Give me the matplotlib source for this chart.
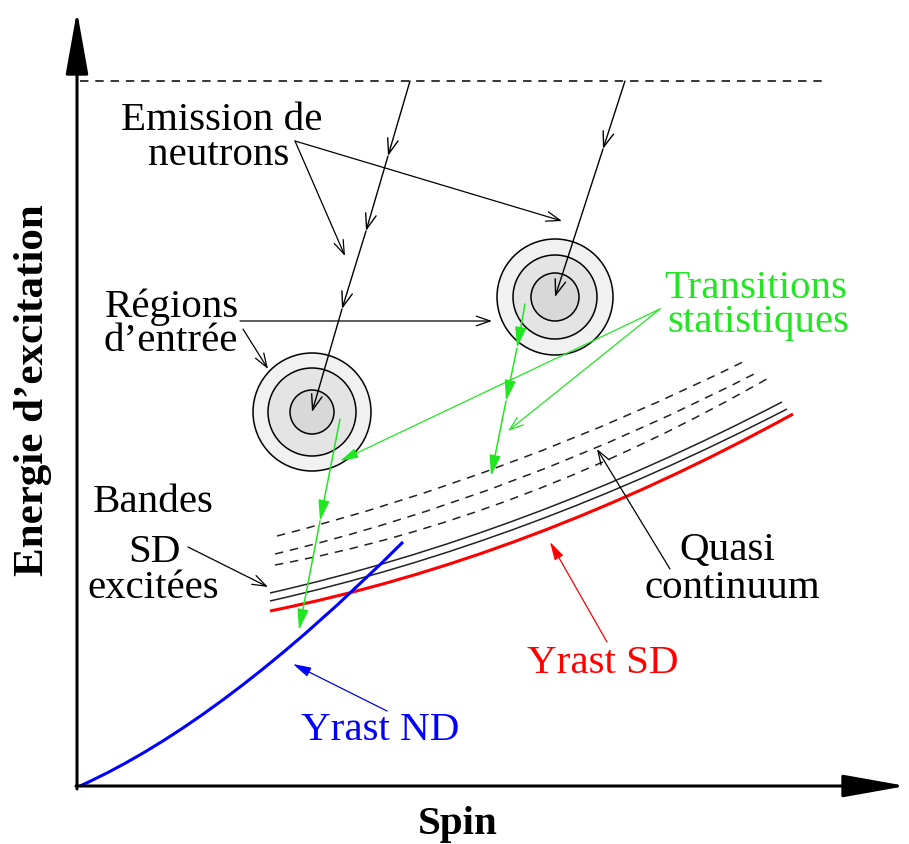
import numpy as np
import matplotlib
matplotlib.use('Agg')
import matplotlib.pyplot as plt
from matplotlib.path import Path
from matplotlib.patches import PathPatch, Circle

W, H = 909, 845

# every position below is in picture pixels, y pointing down
origin = (77, 787)
y_tip = (77, 12)
x_tip = (906, 787)
threshold_y = 82
threshold_x = (80, 825)

# neutron emission steps (entry point -> ... -> entry region)
cascade1 = [(410, 82), (388, 157), (366, 232), (342, 310), (312, 413)]
cascade2 = [(625, 82), (603, 150), (555, 298)]

# entry regions: centres and ring radii (outer -> inner)
centres = [(312, 413), (555, 298)]
radii = [[59, 44, 22], [58, 42, 24]]
ring_colors = ['#f1f1f1', '#e4e4e4', '#d8d8d8']

# statistical gamma transitions
gamma1 = [(340, 420), (320, 522), (299, 631)]
gamma2 = [(525, 305), (517, 349), (506, 402), (491, 477)]

# bands: start, bezier control, end
dashed_bands = [
    [(277, 537), (512, 477), (747, 361)],
    [(275, 555), (517, 497), (760, 372)],
    [(275, 566), (523, 520), (772, 377)],
]
solid_bands = [
    [(270, 594), (526, 536), (782, 403)],
    [(270, 602), (528, 544), (787, 410)],
]
yrast_sd = [(270, 612), (529, 560), (793, 415)]
yrast_nd = [(80, 787), (224, 722), (403, 543)]

GREEN = '#22e622'

# label pointers: (start, tip, color, style)
pointers = [
    ((295, 142), (345, 257), 'black', 'open'),
    ((295, 142), (562, 222), 'black', 'open'),
    ((240, 322), (492, 322), 'black', 'open'),
    ((243, 330), (268, 370), 'black', 'open'),
    ((660, 310), (340, 462), GREEN, 'filled'),
    ((660, 310), (508, 432), GREEN, 'open'),
    ((188, 548), (268, 588), 'black', 'open'),
    ((670, 570), (597, 450), 'black', 'open'),
    ((607, 643), (550, 543), 'red', 'filled'),
    ((387, 712), (293, 665), 'blue', 'filled'),
]

# labels: text, x, baseline y, color
labels = [
    ('Emission de', 222, 130, 'black'),
    ('neutrons', 219, 165, 'black'),
    ('Régions', 172, 317, 'black'),
    ('d\u2019entrée', 171, 351, 'black'),
    ('Transitions', 756, 298, GREEN),
    ('statistiques', 758, 332, GREEN),
    ('Bandes', 153, 512, 'black'),
    ('SD', 154, 562, 'black'),
    ('excitées', 153, 598, 'black'),
    ('Quasi', 727, 560, 'black'),
    ('continuum', 732, 598, 'black'),
    ('Yrast SD', 603, 673, 'red'),
    ('Yrast ND', 380, 740, 'blue'),
]
xlabel = 'Spin'
ylabel = 'Energie d\u2019excitation'

FONT = 'Liberation Serif'
FS = 29.5

fig = plt.figure(figsize=(W / 100, H / 100), dpi=100)
ax = fig.add_axes([0, 0, 1, 1])
ax.set_xlim(0, W)
ax.set_ylim(H, 0)
ax.axis('off')


def arrow(start, tip, color='black', lw=0.9, style='open', size=1.0):
    if style == 'open':
        st = '->,head_length=%.2f,head_width=%.2f' % (1.0 * size, 0.35 * size)
    else:
        st = '-|>,head_length=%.2f,head_width=%.2f' % (1.1 * size, 0.3 * size)
    ax.annotate('', xy=tip, xytext=start,
                arrowprops=dict(arrowstyle=st, color=color, lw=lw,
                                shrinkA=0, shrinkB=0, mutation_scale=10),
                zorder=5)


def bezier(pts, **kw):
    path = Path(pts, [Path.MOVETO, Path.CURVE3, Path.CURVE3])
    ax.add_patch(PathPatch(path, fill=False, capstyle='butt', **kw))


# axes
for tip, tail in ((y_tip, (origin[0], origin[1] + 3)), (x_tip, (origin[0] - 1, origin[1]))):
    ax.annotate('', xy=tip, xytext=tail,
                arrowprops=dict(arrowstyle='-|>,head_length=2.8,head_width=0.5',
                                color='black', lw=2.2, shrinkA=0, shrinkB=0,
                                mutation_scale=14))
ax.plot(threshold_x, [threshold_y] * 2, color='black', lw=1.1, dashes=(5.5, 4.5))

# entry regions
for (cx, cy), rr in zip(centres, radii):
    for r, fc in zip(rr, ring_colors):
        ax.add_patch(Circle((cx, cy), r, facecolor=fc, edgecolor='black',
                            lw=1.1, zorder=2))

# neutron cascades
for casc in (cascade1, cascade2):
    for a, b in zip(casc[:-1], casc[1:]):
        arrow(a, b, lw=1.0, size=1.1)

# bands
for pts in dashed_bands:
    bezier(pts, edgecolor='#222222', lw=1.1, linestyle=(0, (5.5, 4.5)))
for pts in solid_bands:
    bezier(pts, edgecolor='#222222', lw=1.1)
bezier(yrast_sd, edgecolor='red', lw=2.2)
bezier(yrast_nd, edgecolor='blue', lw=2.2)

# gamma cascades
for casc in (gamma1, gamma2):
    for a, b in zip(casc[:-1], casc[1:]):
        arrow(a, b, color=GREEN, lw=1.1, style='filled', size=1.15)

# label pointers
for start, tip, color, style in pointers:
    arrow(start, tip, color=color, lw=0.9, style=style)

for txt, x, y, color in labels:
    ax.text(x, y, txt, ha='center', va='baseline', color=color,
            family=FONT, fontsize=FS)

ax.text(458, 834, xlabel, ha='center', va='baseline', family=FONT,
        fontsize=FS, fontweight='bold')
ax.text(43, 390, ylabel, ha='center', va='baseline', family=FONT,
        fontsize=31, fontweight='bold', rotation=90, rotation_mode='anchor')

fig.savefig('out.png', dpi=100)
